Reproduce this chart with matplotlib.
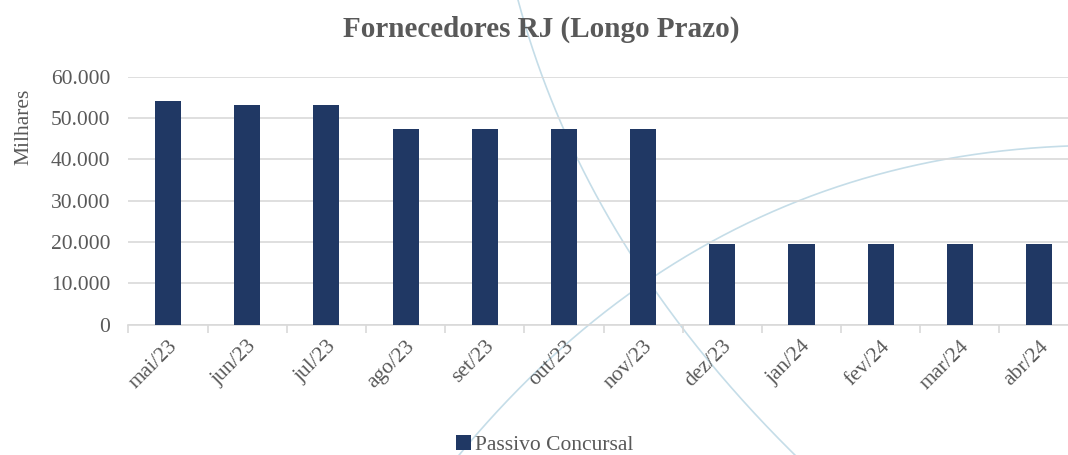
import numpy as np
import matplotlib.pyplot as plt
from matplotlib.ticker import FuncFormatter, FixedLocator

# data (Milhares)
months = ["mai/23", "jun/23", "jul/23", "ago/23", "set/23", "out/23",
          "nov/23", "dez/23", "jan/24", "fev/24", "mar/24", "abr/24"]
passivo = [54100, 53150, 53150, 47350, 47350, 47350,
           47350, 19500, 19500, 19500, 19500, 19500]

plt.rcParams['font.family'] = ['Liberation Serif', 'DejaVu Serif']
grey = "#595959"
navy = "#203864"

fig = plt.figure(figsize=(10.68, 4.55), dpi=100)

# decorative background curves (watermark)
bg = fig.add_axes([0, 0, 1, 1], zorder=-1)
bg.set_xlim(0, 1068)
bg.set_ylim(455, 0)
bg.axis("off")
t = np.linspace(0, 1, 200)
def bez(p0, p1, p2):
    p0, p1, p2 = map(np.array, (p0, p1, p2))
    return ((1 - t) ** 2)[:, None] * p0 + (2 * (1 - t) * t)[:, None] * p1 + (t ** 2)[:, None] * p2
c1 = bez((518, 0), (585, 250), (800, 460))
c2 = bez((455, 460), (700, 160), (1068, 146))
for c in (c1, c2):
    bg.plot(c[:, 0], c[:, 1], color="#c5dde8", lw=1.2)

ax = fig.add_axes([0.1203, 0.2868, 0.8896, 0.544])
ax.patch.set_alpha(0)
x = np.arange(len(months))
ax.bar(x, passivo, width=0.33, color=navy, zorder=3, label="Passivo Concursal")

ax.set_xlim(-0.5, len(months) - 0.5)
ax.set_ylim(0, 60000)
ax.set_yticks(np.arange(0, 60001, 10000))
ax.yaxis.set_major_formatter(FuncFormatter(lambda v, p: f"{int(v):,}".replace(",", ".")))
ax.grid(axis="y", color="#d9d9d9", lw=1.2, zorder=0)
ax.tick_params(axis="y", length=0, labelsize=15.5, labelcolor=grey, pad=13)

ax.set_xticks(x)
ax.set_xticklabels(months, rotation=45, ha="right", rotation_mode="anchor",
                   fontsize=15.5, color=grey)
ax.tick_params(axis="x", which="major", length=0, pad=9)
ax.xaxis.set_minor_locator(FixedLocator(np.arange(-0.5, len(months), 1)))
ax.tick_params(axis="x", which="minor", length=6, color="#d9d9d9", width=1.2)

for s in ("top", "right", "left"):
    ax.spines[s].set_visible(False)
ax.spines["bottom"].set_color("#d9d9d9")
ax.spines["bottom"].set_linewidth(1.2)

ax.set_ylabel("Milhares", fontsize=15.5, color=grey)
ax.yaxis.set_label_coords(-0.1, 0.8)

fig.text(0.507, 0.935, "Fornecedores RJ (Longo Prazo)", ha="center", va="center",
         fontsize=21, fontweight="bold", color=grey)

fig.legend(loc="center", bbox_to_anchor=(0.51, 0.022), frameon=False, fontsize=15.5,
           labelcolor=grey, handlelength=0.7, handleheight=0.7, handletextpad=0.2)

fig.savefig("out.png", dpi=100)
